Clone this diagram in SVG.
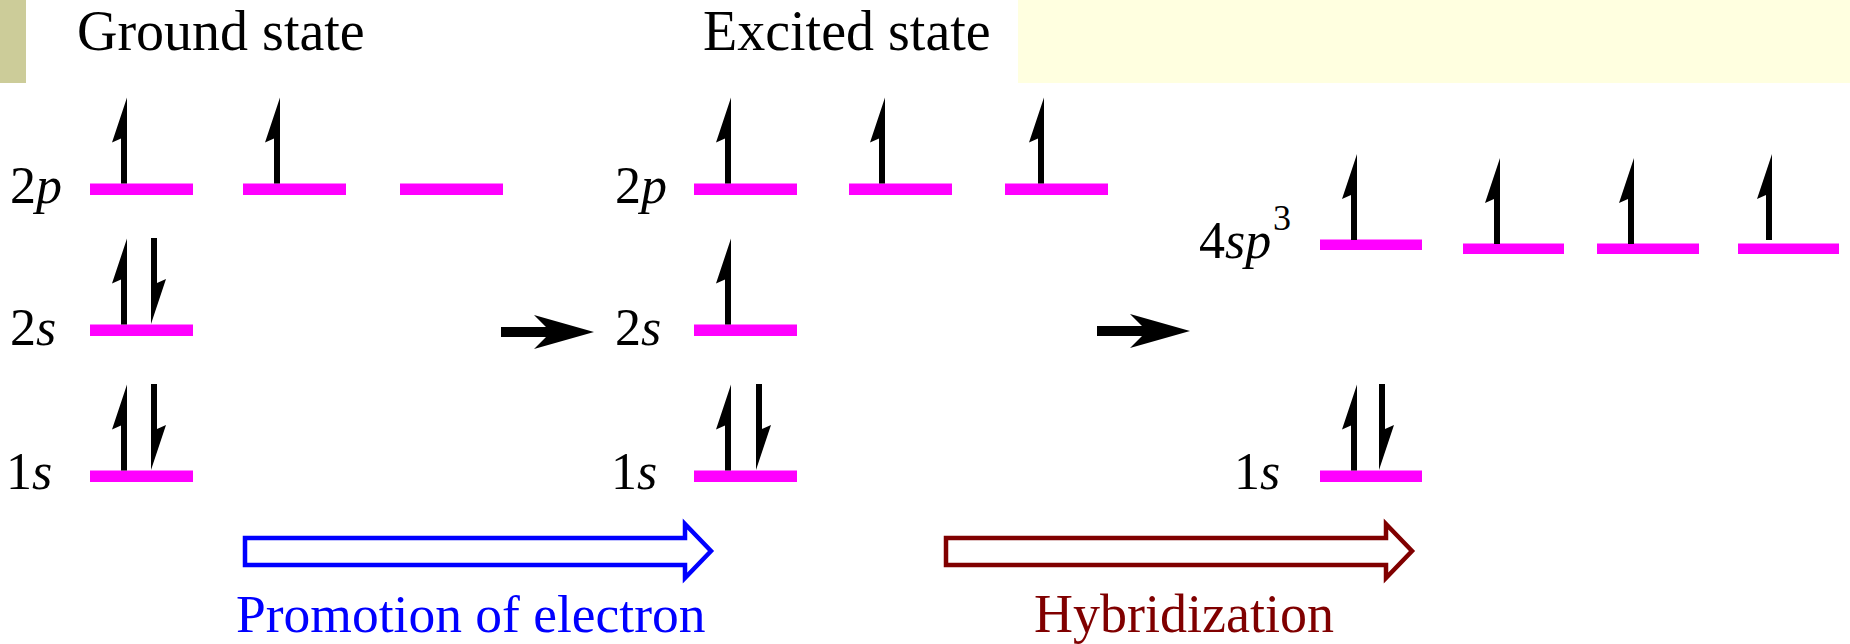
<svg xmlns="http://www.w3.org/2000/svg" xmlns:xlink="http://www.w3.org/1999/xlink" width="1850" height="644" viewBox="0 0 1850 644">
<style>
text{font-family:'Liberation Serif','Times New Roman',Times,'DejaVu Serif',serif}
.lvl{fill:#FF00FF}
.lbl{font-size:52px;fill:#000}
.it{font-style:italic}
.hdr{font-size:56px;fill:#000}
.e{fill:#000}
</style>
<defs>
<path id="up" d="M-3,0 H3 V-86 L-12,-41 L-3,-45 Z"/>
<path id="arr" d="M0,-5 H45 L33,-17 L93,0 L33,17 L45,5 H0 Z"/>
</defs>
<rect x="0" y="0" width="1850" height="644" fill="#fff"/>
<rect x="0" y="0" width="26" height="83" fill="#CCCC99"/>
<rect x="1018" y="0" width="832" height="83" fill="#FFFFE0"/>
<text class="hdr" x="77" y="50">Ground state</text>
<text class="hdr" x="703" y="50">Excited state</text>

<g id="ground">
<text class="lbl" x="10" y="203">2<tspan class="it">p</tspan></text>
<text class="lbl" x="10" y="345">2<tspan class="it">s</tspan></text>
<text class="lbl" x="6" y="489">1<tspan class="it">s</tspan></text>
<rect class="lvl" x="90" y="183.5" width="103" height="11.5"/>
<rect class="lvl" x="243" y="183.5" width="103" height="11.5"/>
<rect class="lvl" x="400" y="183.5" width="103" height="11.5"/>
<rect class="lvl" x="90" y="324.5" width="103" height="11.5"/>
<rect class="lvl" x="90" y="470.5" width="103" height="11.5"/>
<use xlink:href="#up" class="e" transform="translate(124,183.5)"/>
<use xlink:href="#up" class="e" transform="translate(277,183.5)"/>
<use xlink:href="#up" class="e" transform="translate(124,324.5)"/>
<use xlink:href="#up" class="e" transform="translate(154,238) rotate(180)"/>
<use xlink:href="#up" class="e" transform="translate(124,470.5)"/>
<use xlink:href="#up" class="e" transform="translate(154,384) rotate(180)"/>
</g>

<g id="excited">
<text class="lbl" x="615" y="203">2<tspan class="it">p</tspan></text>
<text class="lbl" x="615" y="345">2<tspan class="it">s</tspan></text>
<text class="lbl" x="611" y="489">1<tspan class="it">s</tspan></text>
<rect class="lvl" x="694" y="183.5" width="103" height="11.5"/>
<rect class="lvl" x="849" y="183.5" width="103" height="11.5"/>
<rect class="lvl" x="1005" y="183.5" width="103" height="11.5"/>
<rect class="lvl" x="694" y="324.5" width="103" height="11.5"/>
<rect class="lvl" x="694" y="470.5" width="103" height="11.5"/>
<use xlink:href="#up" class="e" transform="translate(728,183.5)"/>
<use xlink:href="#up" class="e" transform="translate(882,183.5)"/>
<use xlink:href="#up" class="e" transform="translate(1041,183.5)"/>
<use xlink:href="#up" class="e" transform="translate(728,324.5)"/>
<use xlink:href="#up" class="e" transform="translate(728,470.5)"/>
<use xlink:href="#up" class="e" transform="translate(759,384) rotate(180)"/>
</g>

<g id="hybrid">
<text class="lbl" x="1199" y="258">4<tspan class="it">sp</tspan><tspan x="1273" y="230" font-size="36">3</tspan></text>
<text class="lbl" x="1234" y="489">1<tspan class="it">s</tspan></text>
<rect class="lvl" x="1320" y="239.5" width="102" height="10.5"/>
<rect class="lvl" x="1463" y="243.5" width="101" height="10.5"/>
<rect class="lvl" x="1597" y="243.5" width="102" height="10.5"/>
<rect class="lvl" x="1738" y="243.5" width="101" height="10.5"/>
<rect class="lvl" x="1320" y="470.5" width="102" height="11.5"/>
<use xlink:href="#up" class="e" transform="translate(1354,240)"/>
<use xlink:href="#up" class="e" transform="translate(1497,244)"/>
<use xlink:href="#up" class="e" transform="translate(1631,244)"/>
<use xlink:href="#up" class="e" transform="translate(1769,240)"/>
<use xlink:href="#up" class="e" transform="translate(1354,470.5)"/>
<use xlink:href="#up" class="e" transform="translate(1382,384) rotate(180)"/>
</g>

<g id="connectors">
<use xlink:href="#arr" class="e" transform="translate(501,332)"/>
<use xlink:href="#arr" class="e" transform="translate(1097,331)"/>
<path d="M245,538 H685 V524 L711,551 L685,578 V565 H245 Z" fill="#fff" stroke="#0000FF" stroke-width="4.5"/>
<path d="M946,538 H1386 V524 L1412,551 L1386,578 V565 H946 Z" fill="#fff" stroke="#800000" stroke-width="4.5"/>
</g>
<g id="captions">
<text x="236" y="632" font-size="53.5" fill="#0000FF">Promotion of electron</text>
<text x="1034" y="632" font-size="54" fill="#800000">Hybridization</text>
</g>
</svg>
